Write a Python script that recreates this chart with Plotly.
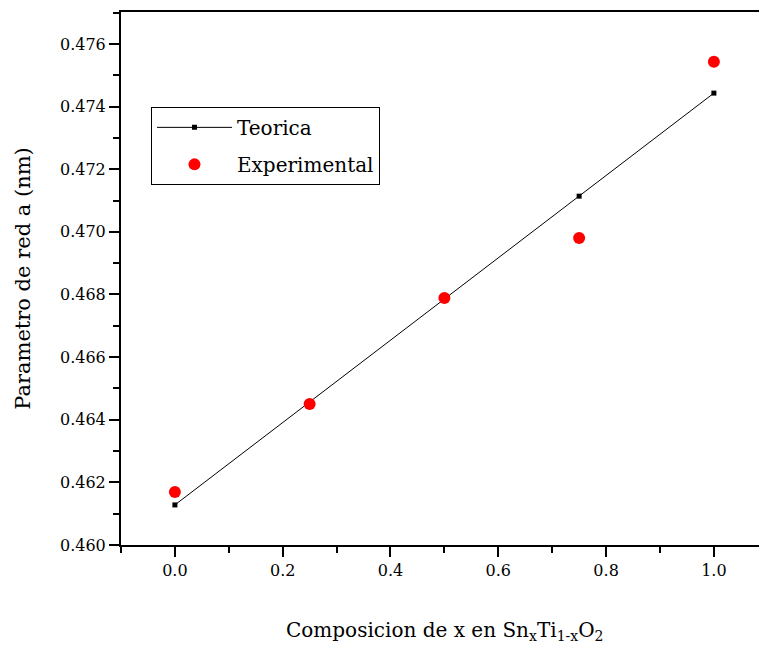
import plotly.graph_objects as go

comp = [0.0, 0.25, 0.5, 0.75, 1.0]
teorica = [0.46128, 0.46457, 0.46786, 0.47114, 0.47443]
experimental = [0.46169, 0.46450, 0.46789, 0.46980, 0.47543]

FONT = "'DejaVu Serif', 'Liberation Serif', serif"

fig = go.Figure()
fig.add_trace(go.Scatter(
    x=comp, y=teorica, mode="lines+markers", name="Teorica", legendgroup="a",
    line=dict(color="black", width=1),
    marker=dict(symbol="square", size=5, color="black"),
))
fig.add_trace(go.Scatter(
    x=comp, y=experimental, mode="markers", name="Experimental", legendgroup="b",
    marker=dict(symbol="circle", size=12, color="#ff0000"),
))

fig.update_layout(
    width=759, height=649,
    margin=dict(l=121, r=0, t=12, b=104),
    paper_bgcolor="white", plot_bgcolor="white",
    font=dict(family=FONT, color="black", size=16),
    showlegend=True,
    legend=dict(
        x=0.047, y=0.822, xanchor="left", yanchor="top",
        bordercolor="black", borderwidth=1, bgcolor="white",
        font=dict(family=FONT, size=20, color="black"),
        itemwidth=75, tracegroupgap=8,
    ),
    xaxis=dict(
        range=[-0.1, 1.0837], showgrid=False, zeroline=False,
        showline=True, linecolor="black", linewidth=2, mirror=True,
        ticks="outside", ticklen=10, tickwidth=2, tickcolor="black",
        tickvals=[0.0, 0.2, 0.4, 0.6, 0.8, 1.0],
        ticktext=["0.0", "0.2", "0.4", "0.6", "0.8", "1.0"],
        minor=dict(ticks="outside", ticklen=6, tickwidth=2, tickcolor="black", dtick=0.1, tick0=0),
        tickfont=dict(family=FONT, size=16),
    ),
    yaxis=dict(
        range=[0.460, 0.47702], showgrid=False, zeroline=False,
        showline=True, linecolor="black", linewidth=2, mirror=False,
        ticks="outside", ticklen=10, tickwidth=2, tickcolor="black",
        tickvals=[0.460, 0.462, 0.464, 0.466, 0.468, 0.470, 0.472, 0.474, 0.476],
        ticktext=["0.460", "0.462", "0.464", "0.466", "0.468", "0.470", "0.472", "0.474", "0.476"],
        minor=dict(ticks="outside", ticklen=6, tickwidth=2, tickcolor="black", dtick=0.001, tick0=0.460),
        tickfont=dict(family=FONT, size=16),
        title=dict(text="Parametro de red a (nm)", font=dict(family=FONT, size=21), standoff=24),
    ),
    annotations=[dict(
        text="Composicion de x en Sn<sub>x</sub>Ti<sub>1-x</sub>O<sub>2</sub>",
        xref="paper", yref="paper", x=(445 - 121) / 638, y=-(631 - 545) / 533,
        xanchor="center", yanchor="middle", showarrow=False,
        font=dict(family=FONT, size=20, color="black"),
    )],
)

fig.write_html("out.html")
